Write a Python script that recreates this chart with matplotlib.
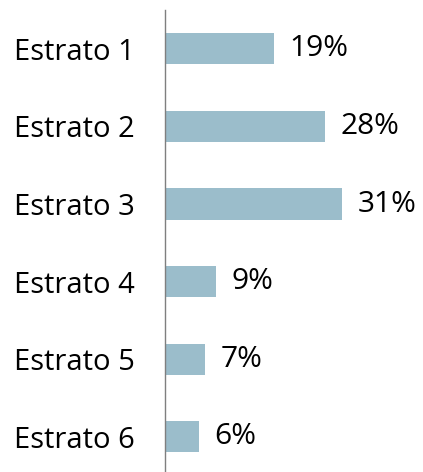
import matplotlib.pyplot as plt

# data
categories = ["Estrato 1", "Estrato 2", "Estrato 3", "Estrato 4", "Estrato 5", "Estrato 6"]
values = [19, 28, 31, 9, 7, 6]

plt.rcParams["font.family"] = ["Open Sans", "DejaVu Sans"]

W, H = 423, 472
fig = plt.figure(figsize=(W / 100, H / 100), dpi=100)

# axes in pixel coords: left edge at x=165, top at y=10
ax = fig.add_axes([165 / W, 0, (W - 165) / W, (H - 10) / H])

bar_color = "#9bbdcb"
pos = list(range(len(categories)))
bars = ax.barh(pos, values, height=0.4, color=bar_color)

# 77.6 px per category slot, top of axes half a slot above first bar
ax.set_ylim(-0.5 + (H - 10) / 77.6, -0.5)
ax.set_xlim(0, (W - 165) / 5.72)

ax.set_yticks(pos)
ax.set_yticklabels(categories, fontsize=21)
ax.tick_params(axis="y", length=0, pad=22)
ax.set_xticks([])

for s in ["top", "right", "bottom"]:
    ax.spines[s].set_visible(False)
ax.spines["left"].set_color("#7f7f7f")
ax.spines["left"].set_linewidth(1)

for bar, v in zip(bars, values):
    ax.annotate(
        f"{v}%",
        xy=(bar.get_width(), bar.get_y() + bar.get_height() / 2),
        xytext=(11, 0),
        textcoords="offset points",
        va="center",
        ha="left",
        fontsize=21.5,
    )

fig.savefig("out.png", dpi=100)
